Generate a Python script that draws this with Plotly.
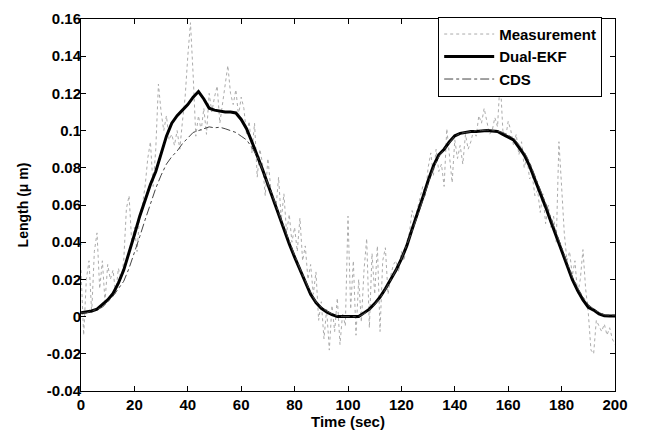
import plotly.graph_objects as go

# ---- data ----
t_meas = list(range(0, 201))
measurement = [
    0.025, -0.01, 0.02, 0.03, 0.002, 0.035, 0.045, 0.015, 0.03, 0.008,
    0.028, 0.02, 0.025, 0.012, 0.026, 0.02, 0.03, 0.058, 0.065, 0.04,
    0.048, 0.035, 0.055, 0.06, 0.07, 0.085, 0.094, 0.07, 0.09, 0.125,
    0.11, 0.1, 0.108, 0.095, 0.098, 0.092, 0.1, 0.09, 0.105, 0.118,
    0.14, 0.158, 0.13, 0.097, 0.108, 0.1, 0.112, 0.098, 0.12, 0.11,
    0.118, 0.124, 0.104, 0.115, 0.126, 0.135, 0.12, 0.114, 0.122, 0.108,
    0.118, 0.112, 0.098, 0.105, 0.088, 0.104, 0.075, 0.09, 0.082, 0.065,
    0.085, 0.07, 0.062, 0.058, 0.075, 0.052, 0.066, 0.045, 0.055, 0.04,
    0.048, 0.035, 0.053, 0.03, 0.038, 0.02, 0.028, 0.012, 0.024, -0.002,
    0.008, -0.012, 0.004, -0.018, 0.006, -0.008, 0.01, -0.015, 0.002, -0.005,
    0.054, 0.004, 0.03, -0.01, 0.02, -0.003, 0.025, 0.042, -0.006, 0.034,
    0.012, 0.038, -0.008, 0.03, 0.037, 0.012, 0.022, 0.028, 0.03, 0.024,
    0.035, 0.03, 0.04, 0.045, 0.057, 0.052, 0.058, 0.065, 0.07, 0.065,
    0.08, 0.088, 0.076, 0.09, 0.078, 0.082, 0.07, 0.101, 0.088, 0.072,
    0.095, 0.085, 0.092, 0.082, 0.098, 0.09, 0.094, 0.1, 0.097, 0.108,
    0.104, 0.112, 0.105, 0.098, 0.1, 0.107, 0.102, 0.128, 0.1, 0.096,
    0.105, 0.1, 0.092, 0.098, 0.087, 0.094, 0.08, 0.086, 0.074, 0.076,
    0.065, 0.068, 0.056, 0.066, 0.05, 0.06, 0.048, 0.054, 0.04, 0.094,
    0.07, 0.045, 0.03, 0.035, 0.022, 0.03, 0.012, 0.02, 0.036, 0.015,
    0.002, -0.018, -0.02, -0.002, -0.005, -0.008, -0.004, -0.01, -0.006, -0.012,
    -0.015,
]

t_est = list(range(0, 201, 2))
dual_ekf = [
    0.002, 0.0025, 0.003, 0.004, 0.0065, 0.009, 0.0125, 0.018, 0.025, 0.034,
    0.044, 0.054, 0.063, 0.071, 0.078, 0.087, 0.097, 0.104, 0.108, 0.111,
    0.114, 0.118, 0.121, 0.117, 0.112, 0.111, 0.1105, 0.110, 0.110, 0.1095,
    0.106, 0.101, 0.094, 0.087, 0.079, 0.071, 0.063, 0.054, 0.046, 0.039,
    0.032, 0.025, 0.018, 0.012, 0.0075, 0.0045, 0.0025, 0.001, 0.0, 0.0,
    0.0, 0.0, 0.0, 0.002, 0.004, 0.007, 0.0105, 0.015, 0.020, 0.025,
    0.031, 0.038, 0.047, 0.055, 0.064, 0.073, 0.081, 0.087, 0.090, 0.094,
    0.0972, 0.0985, 0.099, 0.0995, 0.0995, 0.0998, 0.1, 0.0998, 0.0995, 0.098,
    0.0965, 0.095, 0.091, 0.087, 0.081, 0.074, 0.067, 0.059, 0.051, 0.043,
    0.035, 0.027, 0.020, 0.014, 0.009, 0.005, 0.0035, 0.0015, 0.0005, 0.0003,
    0.0003,
]
cds = [
    0.002, 0.002, 0.003, 0.004, 0.005, 0.008, 0.011, 0.015, 0.019, 0.026,
    0.034, 0.043, 0.052, 0.061, 0.069, 0.076, 0.082, 0.086, 0.089, 0.093,
    0.096, 0.099, 0.1, 0.101, 0.102, 0.1015, 0.1018, 0.101, 0.1, 0.099,
    0.097, 0.095, 0.091, 0.086, 0.079, 0.072, 0.064, 0.056, 0.048, 0.040,
    0.033, 0.026, 0.019, 0.013, 0.008, 0.005, 0.003, 0.0015, 0.0005, 0.0,
    0.0, 0.0, 0.0, 0.0015, 0.0035, 0.0065, 0.010, 0.0145, 0.0195, 0.025,
    0.031, 0.038, 0.046, 0.054, 0.063, 0.072, 0.080, 0.086, 0.090, 0.0935,
    0.097, 0.0985, 0.099, 0.0995, 0.1, 0.1, 0.1003, 0.1, 0.0998, 0.099,
    0.0975, 0.096, 0.0925, 0.0885, 0.083, 0.076, 0.069, 0.061, 0.053, 0.045,
    0.037, 0.029, 0.0215, 0.0155, 0.0105, 0.0065, 0.004, 0.0022, 0.001, 0.0008,
    0.0008,
]

x_ticks = [0, 20, 40, 60, 80, 100, 120, 140, 160, 180, 200]
x_tick_labels = ["0", "20", "40", "60", "80", "100", "120", "140", "160", "180", "200"]
y_ticks = [-0.04, -0.02, 0, 0.02, 0.04, 0.06, 0.08, 0.1, 0.12, 0.14, 0.16]
y_tick_labels = ["-0.04", "-0.02", "0", "0.02", "0.04", "0.06", "0.08", "0.1", "0.12", "0.14", "0.16"]

FONT = "Liberation Sans, Arial, sans-serif"

fig = go.Figure()
fig.add_trace(go.Scatter(
    x=t_meas, y=measurement, mode="lines", name="Measurement",
    line=dict(color="#ababab", width=1, dash="dot"),
))
fig.add_trace(go.Scatter(
    x=t_est, y=dual_ekf, mode="lines", name="Dual-EKF",
    line=dict(color="#000000", width=3),
))
fig.add_trace(go.Scatter(
    x=t_est, y=cds, mode="lines", name="CDS",
    line=dict(color="#444444", width=1, dash="dashdot"),
))

axis_common = dict(
    showline=True, linecolor="black", linewidth=1, mirror="ticks",
    ticks="inside", ticklen=5, tickcolor="black", tickwidth=1,
    showgrid=False, zeroline=False,
    tickfont=dict(family=FONT, size=15, color="black", weight="bold"),
)

fig.update_layout(
    width=645, height=434,
    margin=dict(l=81, r=30, t=10, b=41),
    paper_bgcolor="white", plot_bgcolor="white",
    xaxis=dict(range=[0, 200], tickvals=x_ticks, ticktext=x_tick_labels,
               title=dict(text="Time (sec)", standoff=0,
                          font=dict(family=FONT, size=15, color="black", weight="bold")),
               **axis_common),
    yaxis=dict(range=[-0.04, 0.16], tickvals=y_ticks, ticktext=y_tick_labels,
               ticklabelstandoff=-4,
               title=dict(text="Length (\u03bc m)", standoff=14,
                          font=dict(family=FONT, size=14, color="black", weight="bold")),
               **axis_common),
    legend=dict(
        x=0.976, y=1.006, xanchor="right", yanchor="top",
        bgcolor="white", bordercolor="black", borderwidth=1,
        font=dict(family=FONT, size=15, color="black", weight="bold"),
        itemwidth=50, tracegroupgap=0,
    ),
    showlegend=True,
)

fig.write_html("out.html", config={"displayModeBar": False},
               post_script="document.body.style.margin='0';")
